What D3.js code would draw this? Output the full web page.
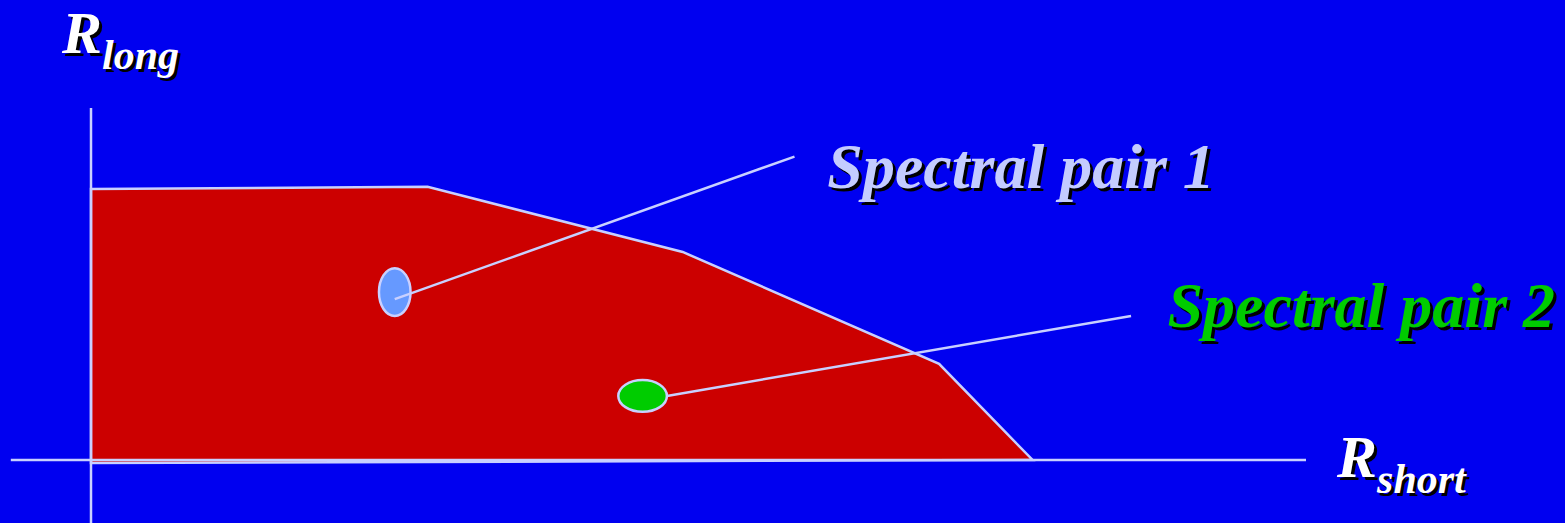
<!DOCTYPE html>
<html><head><meta charset="utf-8">
<script src="https://cdn.jsdelivr.net/npm/d3@7"></script>
<style>html,body{margin:0;padding:0;background:#0000f0;overflow:hidden}</style>
</head><body>
<svg id="c" width="1565" height="523"></svg>
<script>
// Region boundary (Rshort, Rlong) in data units
const regionX = [0, 2.77, 4.87, 6.98, 7.75, 0];
const regionY = [7.70, 7.76, 5.91, 2.73, 0, -0.085];
// Spectral pairs: centre, radii (data units), leader end, label
const pairNames = ["Spectral pair 1", "Spectral pair 2"];
const pairX = [2.50, 4.54];
const pairY = [4.77, 1.82];
const pairRx = [0.13, 0.2];
const pairRy = [0.68, 0.45];
const leaderStartDx = [0, 0.2];
const leaderStartDy = [-0.2, 0];
const leaderEndX = [5.79, 8.56];
const leaderEndY = [8.62, 4.09];
const pairFill = ["#6699ff", "#00cc00"];
const labelColor = ["#c4ccff", "#00cc00"];
const labelX = [6.06, 8.86];
const labelY = [7.74, 3.78];
// axis extents
const axisXExt = [-0.66, 10];
const axisYExt = [-1.79, 10];

const W = 1565, H = 523;
const x = d3.scaleLinear().domain([0, 10]).range([91, 1306]);
const y = d3.scaleLinear().domain([0, 10]).range([460, 108]);
const svg = d3.select("#c");
svg.append("rect").attr("width", W).attr("height", H).attr("fill", "#0000f0");

const lineCol = "#c8d0ff";
// region
const pts = regionX.map((v, i) => [x(v), y(regionY[i])]);
svg.append("path").attr("d", d3.line()(pts) + "Z")
  .attr("fill", "#cc0000").attr("stroke", lineCol).attr("stroke-width", 2.5).attr("stroke-linejoin", "miter");

// axes
svg.append("line").attr("x1", x(axisXExt[0])).attr("x2", x(axisXExt[1])).attr("y1", y(0)).attr("y2", y(0))
  .attr("stroke", lineCol).attr("stroke-width", 2.5);
svg.append("line").attr("x1", x(0)).attr("x2", x(0)).attr("y1", y(axisYExt[0])).attr("y2", y(axisYExt[1]))
  .attr("stroke", lineCol).attr("stroke-width", 2.5);

// pairs
pairNames.forEach((n, i) => {
  const cx = x(pairX[i]), cy = y(pairY[i]);
  const rx = x(pairRx[i]) - x(0), ry = y(0) - y(pairRy[i]);
  svg.append("ellipse").attr("cx", cx).attr("cy", cy).attr("rx", rx).attr("ry", ry)
    .attr("fill", pairFill[i]).attr("stroke", lineCol).attr("stroke-width", 2.5);
  svg.append("line")
    .attr("x1", x(pairX[i] + leaderStartDx[i])).attr("y1", y(pairY[i] + leaderStartDy[i]))
    .attr("x2", x(leaderEndX[i])).attr("y2", y(leaderEndY[i]))
    .attr("stroke", lineCol).attr("stroke-width", 2.5);
  const t = (dx, dy, col) => svg.append("text").attr("x", x(labelX[i]) + dx).attr("y", y(labelY[i]) + dy)
    .attr("font-family", "'Liberation Serif', 'Times New Roman', serif").attr("font-style", "italic")
    .attr("font-weight", "bold").attr("font-size", 64).attr("fill", col).text(n);
  t(3, 3, "#000");
  t(0, 0, labelColor[i]);
});

// axis titles
function axisTitle(xp, yp, main, sub) {
  [[3, 3, "#000"], [0, 0, "#fff"]].forEach(([dx, dy, col]) => {
    const t = svg.append("text").attr("x", xp + dx).attr("y", yp + dy)
      .attr("font-family", "'Liberation Serif', 'Times New Roman', serif").attr("font-style", "italic")
      .attr("font-weight", "bold").attr("fill", col);
    t.append("tspan").attr("font-size", 60).text(main);
    t.append("tspan").attr("font-size", 42).attr("dy", 16).text(sub);
  });
}
axisTitle(62, 53, "R", "long");
axisTitle(1337, 477, "R", "short");
</script>
</body></html>
